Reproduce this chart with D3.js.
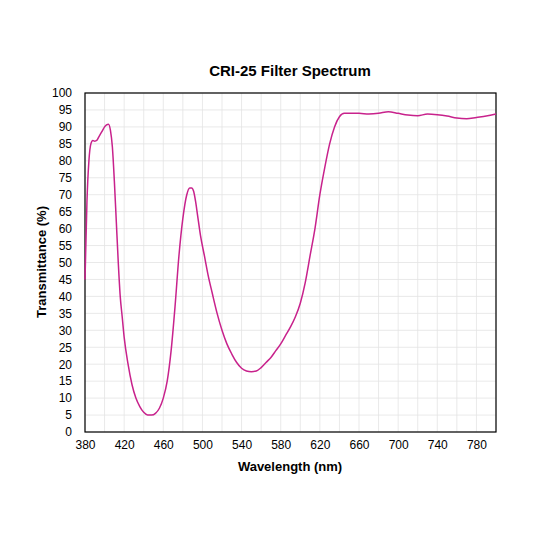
<!DOCTYPE html>
<html><head><meta charset="utf-8">
<script src="https://cdn.jsdelivr.net/npm/d3@7"></script>
<style>body{margin:0;background:#fff;font-family:Arial,"Liberation Sans",sans-serif}</style>
</head><body>
<script>
/* Transmittance readings, wavelength (nm) vs percent */
var wavelengths = [380,382,384,386,388,390,392,394,396,398,400,402,404,406,408,410,412,414,416,418,420,424,428,432,436,440,444,448,452,456,460,464,468,472,476,480,484,487,489,491,493,495,498,502,506,510,515,520,525,530,535,540,545,550,555,560,565,570,575,580,585,590,595,600,605,610,615,620,625,630,635,640,645,650,660,670,680,690,700,710,720,730,740,750,760,770,780,790,800];
var transmittance = [45,68,80,85,86,85.8,86,87,88,89,90,90.6,90.8,89,84,74,62,50,40,34,28,20,14,10,7.5,5.8,5,5,5.5,7,10,15,24,37,52,63,70,72,72,71,68,64,58,52,46,41,35,30,26,23,20.5,18.8,18,17.8,18,19,20.5,22,24,26,28.5,31,34,38,44,52,60,70,78,85,90,93,94,94,94,93.8,94,94.5,94,93.5,93.3,93.8,93.6,93.2,92.6,92.4,92.8,93.2,93.8];
var xTicks = [380,420,460,500,540,580,620,660,700,740,780];
var yTicks = d3.range(0,101,5);

var svg = d3.select("body").append("svg").attr("width",533).attr("height",533);
var mLeft = 85, mRight = 496, mTop = 93, mBottom = 432;
var x = d3.scaleLinear().domain([380,800]).range([mLeft,mRight]);
var y = d3.scaleLinear().domain([0,100]).range([mBottom,mTop]);

/* grid */
svg.append("g").selectAll("line").data(d3.range(380,801,20)).enter().append("line")
  .attr("x1",x).attr("x2",x).attr("y1",mTop).attr("y2",mBottom)
  .attr("stroke","#e3e3e3").attr("stroke-width",0.8);
svg.append("g").selectAll("line").data(yTicks).enter().append("line")
  .attr("y1",y).attr("y2",y).attr("x1",mLeft).attr("x2",mRight)
  .attr("stroke","#e3e3e3").attr("stroke-width",0.8);

/* axes */
var xa = svg.append("g").attr("transform","translate(0,"+mBottom+")")
  .call(d3.axisBottom(x).tickValues(xTicks).tickSize(0).tickPadding(8));
var ya = svg.append("g").attr("transform","translate("+mLeft+",0)")
  .call(d3.axisLeft(y).tickValues(yTicks).tickSize(0).tickPadding(13));
[xa,ya].forEach(function(a){
  a.select(".domain").remove();
  a.selectAll("text").attr("font-size",12).attr("fill","#000").attr("font-family","Arial,Liberation Sans,sans-serif");
});
svg.append("rect").attr("x",mLeft).attr("y",mTop).attr("width",mRight-mLeft).attr("height",mBottom-mTop)
  .attr("fill","none").attr("stroke","#000").attr("stroke-width",1.2);

/* curve */
svg.append("path").datum(d3.zip(wavelengths,transmittance))
  .attr("fill","none").attr("stroke","#c8228c").attr("stroke-width",1.5)
  .attr("d",d3.line().x(function(d){return x(d[0]);}).y(function(d){return y(d[1]);}).curve(d3.curveMonotoneX));

/* labels */
svg.append("text").attr("x",290).attr("y",76).attr("text-anchor","middle")
  .attr("font-size",15).attr("font-weight","bold").text("CRI-25 Filter Spectrum");
svg.append("text").attr("x",290).attr("y",471).attr("text-anchor","middle")
  .attr("font-size",13).attr("font-weight","bold").text("Wavelength (nm)");
svg.append("text").attr("transform","translate(46,262) rotate(-90)").attr("text-anchor","middle")
  .attr("font-size",13).attr("font-weight","bold").text("Transmittance (%)");
</script>
</body></html>
